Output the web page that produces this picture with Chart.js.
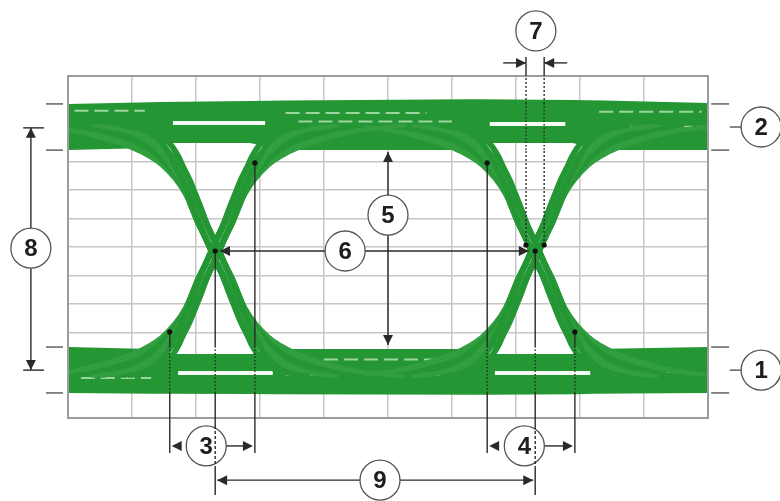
<!DOCTYPE html>
<html>
<head>
<meta charset="utf-8">
<title>Eye diagram</title>
<script src="https://cdn.jsdelivr.net/npm/chart.js@4.4.1/dist/chart.umd.min.js"></script>
<style>
  html, body { margin: 0; padding: 0; background: #fff; }
  #wrap { width: 780px; height: 501px; position: relative; }
</style>
</head>
<body>
<div id="wrap"><canvas id="eyeChart"></canvas></div>
<script>
// screen is 10 x 12 divisions, all values below are in divisions

// crossing points
const crossX = [2.3, 7.3];
const crossY = 5.86;

// edge shape: height above crossing (dy) -> time after crossing (dx)
const edgeDy   = [0, 0.5, 1, 1.5, 2, 2.5, 3, 3.3, 3.6, 3.9, 4.2, 4.4];
const edgeFast = [0, 0.10, 0.20, 0.28, 0.37, 0.46, 0.57, 0.63, 0.71, 0.82, 1.02, 1.40];
const edgeMid1 = [0, 0.10, 0.20, 0.29, 0.38, 0.49, 0.63, 0.72, 0.85, 1.02, 1.32, 1.85];
const edgeMid2 = [0, 0.10, 0.21, 0.30, 0.39, 0.52, 0.69, 0.82, 1.00, 1.25, 1.65, 2.25];
const edgeSlow = [0, 0.10, 0.21, 0.30, 0.40, 0.55, 0.76, 0.95, 1.22, 1.62, 2.15, 2.90];
const edgeJitter = [-0.08, -0.036, 0.036, 0.08];

// rails (upper / lower edge of the green bands)
const topBandX  = [0, 1.28, 1.44, 2.84, 3.39, 6.28, 6.44, 7.88, 8.39, 10];
const topBandHi = [11.02, 11.08, 11.09, 11.12, 11.14, 11.18, 11.18, 11.16, 11.14, 11.05];
const topBandLo = [9.40, 9.47, 9.65, 9.65, 9.40, 9.40, 9.65, 9.65, 9.40, 9.40];
const botBandX  = [0, 1.30, 1.50, 2.92, 3.20, 6.30, 6.55, 7.95, 8.20, 10];
const botBandHi = [2.49, 2.42, 2.25, 2.25, 2.42, 2.42, 2.25, 2.25, 2.42, 2.49];
const botBandLo = [0.88, 0.85, 0.85, 0.84, 0.83, 0.82, 0.82, 0.83, 0.85, 0.88];

// gaps inside the bands [x from, x to, y]
const whiteStreaks = [[1.64, 3.08, 10.35], [6.59, 7.77, 10.32], [1.72, 3.20, 1.58], [6.67, 8.16, 1.58]];
const paleStreaks  = [[0.1, 1.2, 10.78], [3.4, 5.6, 10.70], [8.3, 9.9, 10.75], [3.6, 6.0, 10.40],
                      [8.6, 9.95, 10.22], [0.2, 1.3, 1.40], [3.4, 6.1, 1.52], [8.4, 9.95, 1.58], [4.0, 5.8, 2.05]];

// annotation marks
const railLevels = [0.88, 2.49, 9.40, 11.02];
const railMid = [1.68, 10.21];
const labels = ['1', '2', '3', '4', '5', '6', '7', '8', '9'];
const labelX = [10.83, 10.83, 2.16, 7.13, 5.0, 4.33, 7.31, -0.58, 4.875];
const labelY = [1.68, 10.21, -0.98, -0.98, 7.12, 5.86, 13.58, 5.96, -2.18];
const dotX = [2.3, 7.3, 7.156, 7.44, 2.92, 1.59, 6.55, 7.92];
const dotY = [5.86, 5.86, 6.07, 6.07, 8.95, 3.02, 8.95, 3.02];

const green = 'rgb(36,150,52)';
const green2 = 'rgb(50,158,64)';

function edgeTrace(cx, dxs, sign, shift) {
  let pts = [];
  for (let i = edgeDy.length - 1; i > 0; i--) {
    pts.push({x: cx + shift - sign * dxs[i], y: crossY - edgeDy[i]});
  }
  for (let i = 0; i < edgeDy.length; i++) {
    pts.push({x: cx + shift + sign * dxs[i], y: crossY + edgeDy[i]});
  }
  return pts;
}

function band(xs, ys) {
  return xs.map((x, i) => ({x: x, y: ys[i]}));
}

let datasets = [];

// bands
datasets.push({data: band(topBandX, topBandHi), fill: '+1', backgroundColor: green, borderWidth: 0, order: 30});
datasets.push({data: band(topBandX, topBandLo), fill: false, borderWidth: 0, order: 30});
datasets.push({data: band(botBandX, botBandHi), fill: '+1', backgroundColor: green, borderWidth: 0, order: 30});
datasets.push({data: band(botBandX, botBandLo), fill: false, borderWidth: 0, order: 30});

whiteStreaks.forEach(s => {
  datasets.push({data: [{x: s[0], y: s[2]}, {x: s[1], y: s[2]}], borderColor: 'rgba(255,255,255,0.95)', borderWidth: 4, order: 20});
});
paleStreaks.forEach(s => {
  datasets.push({data: [{x: s[0], y: s[2]}, {x: s[1], y: s[2]}], borderColor: 'rgba(170,220,170,0.9)', borderWidth: 2, borderDash: [14, 6], order: 20});
});

// edges: rising and falling at each crossing
const profiles = [edgeFast, edgeMid1, edgeMid2, edgeSlow];
crossX.forEach(cx => {
  [1, -1].forEach(sign => {
    profiles.forEach((p, k) => {
      edgeJitter.forEach(j => {
        datasets.push({
          data: edgeTrace(cx, p, sign, j),
          borderColor: k % 2 ? green2 : green,
          borderWidth: 3.4,
          tension: 0.35,
          order: 10
        });
      });
    });
  });
});

const annot = {
  id: 'annot',
  afterDraw(chart) {
    const c = chart.ctx, xs = chart.scales.x, ys = chart.scales.y;
    const X = v => xs.getPixelForValue(v), Y = v => ys.getPixelForValue(v);
    const a = chart.chartArea;
    const ink = '#2a2a2a';

    // frame
    c.save();
    c.strokeStyle = '#9c9c9c';
    c.lineWidth = 2;
    c.strokeRect(a.left, a.top, a.right - a.left, a.bottom - a.top);

    c.strokeStyle = ink;
    c.fillStyle = ink;
    c.lineWidth = 1.4;

    function line(x1, y1, x2, y2, dash) {
      c.setLineDash(dash || []);
      c.beginPath();
      c.moveTo(x1, y1);
      c.lineTo(x2, y2);
      c.stroke();
      c.setLineDash([]);
    }
    // vertical line, dotted where it runs over a band
    function vline(xv, y1, y2, dash) {
      const top = Math.max(y1, y2), bot = Math.min(y1, y2);
      const cuts = [bot, top];
      railLevels.forEach(r => { if (r > bot && r < top) cuts.push(r); });
      cuts.sort((p, q) => p - q);
      for (let i = 0; i < cuts.length - 1; i++) {
        const m = (cuts[i] + cuts[i + 1]) / 2;
        const inBand = (m > railLevels[0] && m < railLevels[1]) || (m > railLevels[2] && m < railLevels[3]);
        line(X(xv), Y(cuts[i]), X(xv), Y(cuts[i + 1]), inBand ? [1.5, 2] : dash);
      }
    }
    function arrow(x, y, dir) {
      const L = 10, W = 5;
      c.beginPath();
      c.moveTo(x, y);
      if (dir === 'l') { c.lineTo(x + L, y - W); c.lineTo(x + L, y + W); }
      if (dir === 'r') { c.lineTo(x - L, y - W); c.lineTo(x - L, y + W); }
      if (dir === 'u') { c.lineTo(x - W, y + L); c.lineTo(x + W, y + L); }
      if (dir === 'd') { c.lineTo(x - W, y - L); c.lineTo(x + W, y - L); }
      c.closePath();
      c.fill();
    }
    function circle(i) {
      const cx = X(labelX[i]), cy = Y(labelY[i]);
      c.beginPath();
      c.arc(cx, cy, 20, 0, Math.PI * 2);
      c.fillStyle = '#fff';
      c.fill();
      c.strokeStyle = '#555';
      c.lineWidth = 1.3;
      c.stroke();
      c.fillStyle = '#1e1e1e';
      c.font = 'bold 24px "Liberation Sans", Arial, sans-serif';
      c.textAlign = 'center';
      c.textBaseline = 'middle';
      c.fillText(labels[i], cx, cy + 1);
      c.strokeStyle = ink;
      c.fillStyle = ink;
      c.lineWidth = 1.4;
    }

    // rail ticks left and right
    c.strokeStyle = '#555';
    railLevels.forEach(r => {
      line(X(-0.344), Y(r), X(-0.078), Y(r));
      line(X(10.05), Y(r), X(10.33), Y(r));
    });
    railMid.forEach(r => line(X(10.34), Y(r), X(10.53), Y(r)));
    c.strokeStyle = ink;

    // 8: rail to rail
    line(X(-0.70), Y(10.18), X(-0.375), Y(10.18));
    line(X(-0.70), Y(1.68), X(-0.375), Y(1.68));
    line(X(-0.58), Y(10.18), X(-0.58), Y(1.68));
    arrow(X(-0.58), Y(10.18), 'u');
    arrow(X(-0.58), Y(1.68), 'd');

    // 5: eye height
    line(X(5.0), Y(9.33), X(5.0), Y(2.56));
    arrow(X(5.0), Y(9.33), 'u');
    arrow(X(5.0), Y(2.56), 'd');

    // 6: crossing to crossing
    line(X(2.375), Y(crossY), X(7.2), Y(crossY));
    arrow(X(2.375), Y(crossY), 'l');
    arrow(X(7.2), Y(crossY), 'r');

    // 7: jitter at crossing
    line(X(7.156), Y(12.67), X(7.156), Y(12.0));
    line(X(7.44), Y(12.67), X(7.44), Y(12.0));
    vline(7.156, 12.0, 6.07, [2, 2]);
    vline(7.44, 12.0, 6.07, [2, 2]);
    line(X(6.80), Y(12.46), X(7.156), Y(12.46));
    line(X(7.80), Y(12.46), X(7.44), Y(12.46));
    arrow(X(7.156), Y(12.46), 'r');
    arrow(X(7.44), Y(12.46), 'l');

    // 3 and 4: rise / fall time
    vline(1.59, 3.02, -1.23);
    vline(2.92, 8.95, -1.23);
    vline(6.55, 8.95, -1.23);
    vline(7.92, 3.02, -1.23);
    arrow(X(1.62), Y(-0.98), 'l');
    arrow(X(2.89), Y(-0.98), 'r');
    line(X(2.16) + 20, Y(-0.98), X(2.89) - 9, Y(-0.98));
    arrow(X(6.58), Y(-0.98), 'l');
    arrow(X(7.89), Y(-0.98), 'r');
    line(X(7.13) + 20, Y(-0.98), X(7.89) - 9, Y(-0.98));

    // 9: bit period
    line(X(2.33), Y(-2.18), X(4.875) - 20, Y(-2.18));
    line(X(4.875) + 20, Y(-2.18), X(7.27), Y(-2.18));
    arrow(X(2.33), Y(-2.18), 'l');
    arrow(X(7.27), Y(-2.18), 'r');

    labels.forEach((l, i) => circle(i));

    // crossing centre lines, dashed where they cut through circles 3 and 4
    crossX.forEach(cx => {
      vline(cx, crossY, -0.28, []);
      line(X(cx), Y(-0.28), X(cx), Y(-1.68), [3, 2]);
      line(X(cx), Y(-1.68), X(cx), Y(-2.70));
    });

    // measurement dots
    c.fillStyle = '#111';
    dotX.forEach((dx, i) => {
      c.beginPath();
      c.arc(X(dx), Y(dotY[i]), 2.6, 0, Math.PI * 2);
      c.fill();
    });
    c.restore();
  }
};

const ctx = document.getElementById('eyeChart').getContext('2d');
const eyeChart = new Chart(ctx, {
  type: 'scatter',
  data: {datasets: datasets},
  options: {
    responsive: true,
    maintainAspectRatio: false,
    animation: false,
    showLine: true,
    elements: {point: {radius: 0}},
    layout: {padding: {left: 68, right: 72, top: 76, bottom: 83}},
    plugins: {legend: {display: false}, tooltip: {enabled: false}},
    scales: {
      x: {
        type: 'linear', min: 0, max: 10,
        ticks: {display: false, stepSize: 1},
        grid: {color: '#c6c6c6', lineWidth: 1.5, drawTicks: false},
        border: {display: false}
      },
      y: {
        type: 'linear', min: 0, max: 12,
        ticks: {display: false, stepSize: 1},
        grid: {color: '#c6c6c6', lineWidth: 1.5, drawTicks: false},
        border: {display: false}
      }
    }
  },
  plugins: [annot]
});
</script>
</body>
</html>
